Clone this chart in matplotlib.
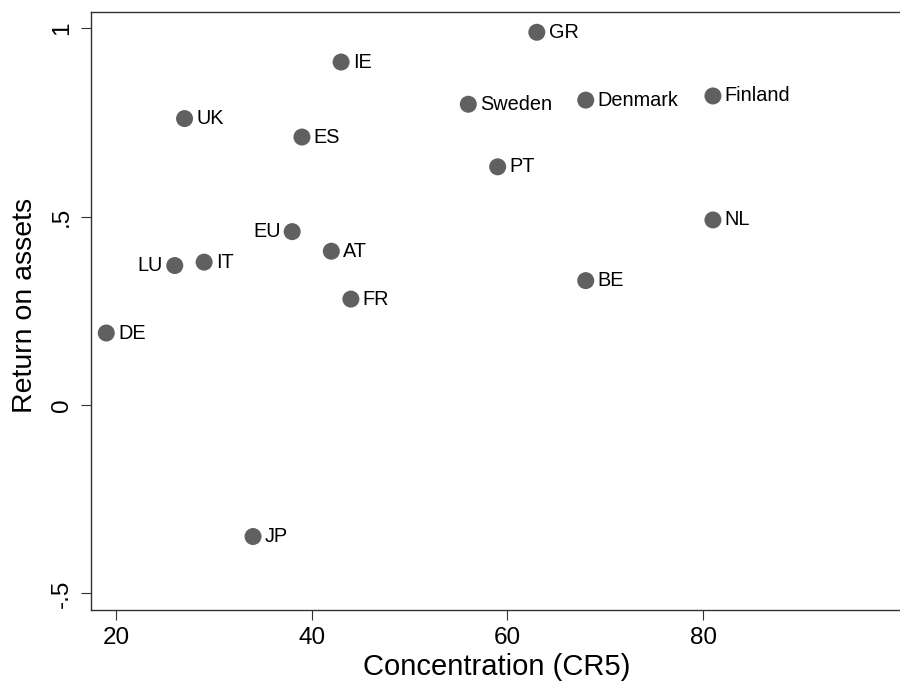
import matplotlib
matplotlib.use("Agg")
import matplotlib.pyplot as plt

countries = ["GR", "IE", "UK", "Sweden", "Denmark", "Finland", "ES", "PT", "NL",
             "EU", "AT", "LU", "IT", "FR", "BE", "DE", "JP"]
concentration = [63, 43, 27, 56, 68, 81, 39, 59, 81, 38, 42, 26, 29, 44, 68, 19, 34]
roa = [0.989, 0.910, 0.760, 0.798, 0.809, 0.820, 0.711, 0.632, 0.491,
       0.460, 0.408, 0.370, 0.379, 0.281, 0.330, 0.191, -0.349]
left_labels = ["EU", "LU"]

xticks = [20, 40, 60, 80]
yticks = [-0.5, 0, 0.5, 1]
yticklabels = ["-.5", "0", ".5", "1"]

plt.rcParams['font.family'] = ['Liberation Sans', 'DejaVu Sans']

fig = plt.figure(figsize=(9, 6.86), dpi=100)
ax = fig.add_axes([91/900, 1 - 610/686, 1 - 91/900 + 0.002, (610 - 12.3)/686])

ax.scatter(concentration, roa, s=150, color="#606060", edgecolors="none", zorder=3)
for name, x, y in zip(countries, concentration, roa):
    if name in left_labels:
        ax.annotate(name, (x, y), xytext=(-8.5, 0), textcoords="offset points",
                    ha="right", va="center", fontsize=14.3, color="black")
    else:
        ax.annotate(name, (x, y), xytext=(8.5, 0), textcoords="offset points",
                    ha="left", va="center", fontsize=14.3, color="black")

ax.set_xlim(17.44, 100.3)
ax.set_ylim(-0.544, 1.042)
ax.set_xticks(xticks)
ax.set_xticklabels([str(t) for t in xticks])
ax.set_yticks(yticks)
ax.set_yticklabels(yticklabels, rotation=90, va="center")

for side in ["left", "bottom", "top", "right"]:
    ax.spines[side].set_color("#333333")
    ax.spines[side].set_linewidth(1.0)

ax.tick_params(axis="both", direction="out", length=7.2, width=0.8, color="#333333",
               labelsize=17.5, pad=5)
ax.tick_params(axis="y", pad=6)

ax.set_xlabel("Concentration (CR5)", fontsize=21, labelpad=3)
ax.set_ylabel("Return on assets", fontsize=20.5)
ax.yaxis.set_label_coords(-0.0655, 0.509)

fig.savefig("out.png", dpi=100)
